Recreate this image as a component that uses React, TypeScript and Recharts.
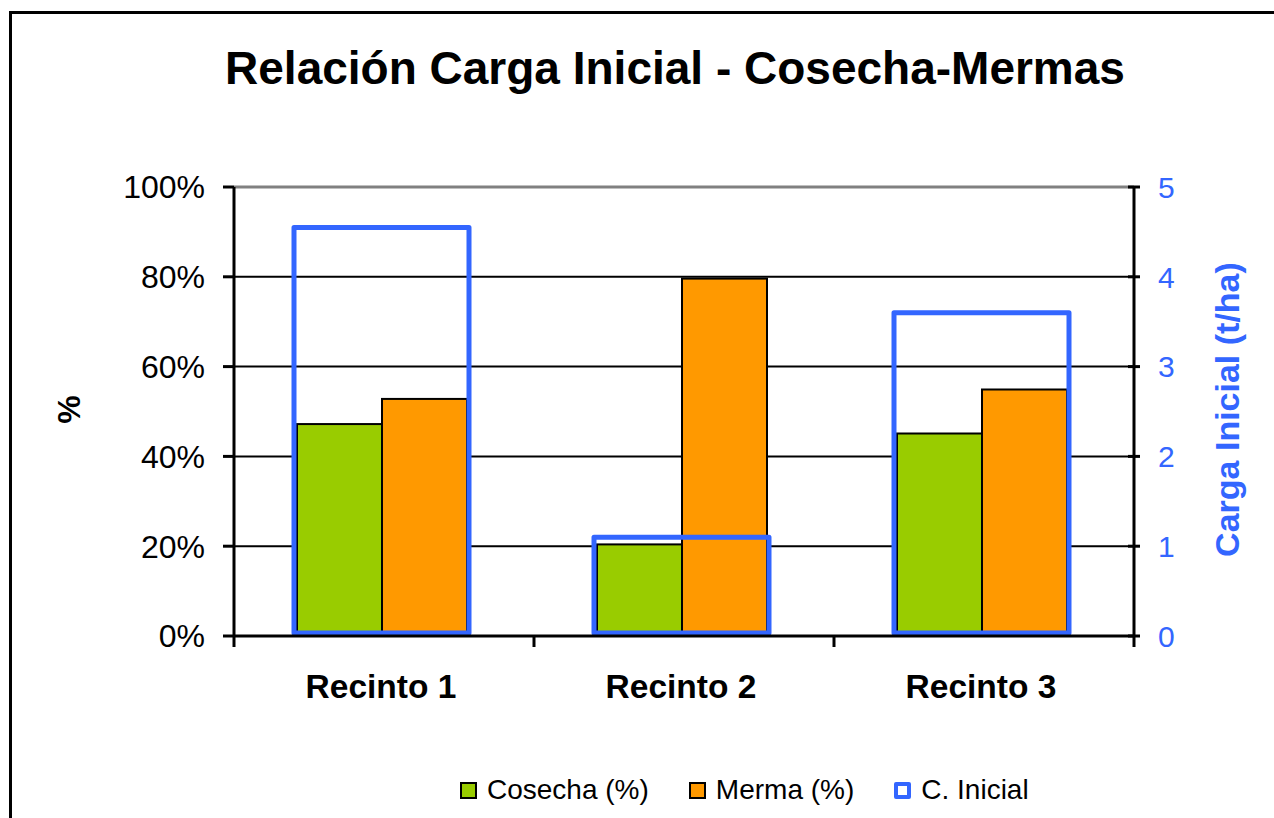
import React from 'react';
import {
  Bar,
  BarChart,
  CartesianGrid,
  Label,
  Legend,
  ReferenceLine,
  XAxis,
  YAxis,
} from 'recharts';

const categories = ['Recinto 1', 'Recinto 2', 'Recinto 3'];
const cosecha = [0.472, 0.204, 0.451];
const merma = [0.528, 0.796, 0.549];
const cargaInicial = [4.55, 1.1, 3.6];

const pctTicks = [0, 0.2, 0.4, 0.6, 0.8, 1];
const cargaTicks = [0, 1, 2, 3, 4, 5];

const seriesNames = ['Cosecha (%)', 'Merma (%)', 'C. Inicial'];

const GREEN = '#99CC00';
const ORANGE = '#FF9900';
const BLUE = '#3366FF';
const FONT = '"Liberation Sans", Arial, sans-serif';

const data = categories.map((name, i) => ({
  name,
  cosecha: cosecha[i],
  merma: merma[i],
  inicial: cargaInicial[i],
}));

const X_TICK = 11;

function CategoryTick(props: any) {
  const {x, y, payload, index} = props;
  const off = payload?.offset ?? 150;
  const axisY = y - X_TICK;
  return (
    <g>
      <line x1={x - off} x2={x - off} y1={axisY} y2={axisY + X_TICK} stroke="#000" strokeWidth={3} />
      {index === categories.length - 1 && (
        <line x1={x + off} x2={x + off} y1={axisY} y2={axisY + X_TICK} stroke="#000" strokeWidth={3} />
      )}
      <text
        x={x - 3}
        y={axisY + 62}
        textAnchor="middle"
        fontFamily={FONT}
        fontWeight="bold"
        fontSize={33.5}
        fill="#000"
      >
        {payload.value}
      </text>
    </g>
  );
}

function CargaTick(props: any) {
  const {x, y, payload} = props;
  return (
    <g>
      <line x1={x - 30} x2={x - 18} y1={y} y2={y} stroke="#000" strokeWidth={3} />
      <text x={x} y={y} dy="0.36em" textAnchor="start" fontFamily={FONT} fontSize={30} fill={BLUE}>
        {payload.value}
      </text>
    </g>
  );
}

function LeftAxisTitle(props: any) {
  const vb = props.viewBox;
  const cx = vb.x + 28;
  const cy = vb.y + vb.height / 2 - 2;
  return (
    <text
      x={cx}
      y={cy}
      transform={`rotate(-90, ${cx}, ${cy})`}
      textAnchor="middle"
      dy="0.36em"
      fontFamily={FONT}
      fontWeight="bold"
      fontSize={32}
      fill="#000"
    >
      %
    </text>
  );
}

function RightAxisTitle(props: any) {
  const vb = props.viewBox;
  const cx = vb.x + 93;
  const cy = vb.y + vb.height / 2 - 2;
  return (
    <text
      x={cx}
      y={cy}
      transform={`rotate(-90, ${cx}, ${cy})`}
      textAnchor="middle"
      dy="0.36em"
      fontFamily={FONT}
      fontWeight="bold"
      fontSize={34}
      fill={BLUE}
    >
      Carga Inicial (t/ha)
    </text>
  );
}

function OutlineBar(props: any) {
  const {x, y, width, height} = props;
  if (height <= 0) return null;
  return (
    <rect
      x={x - 3}
      y={y}
      width={width}
      height={height - 3}
      fill="none"
      stroke={BLUE}
      strokeWidth={5}
      strokeLinejoin="round"
    />
  );
}

function ShiftedBar(props: any) {
  const {x, y, width, height, fill} = props;
  if (height <= 0) return null;
  return <rect x={x - 2} y={y} width={width} height={height} fill={fill} stroke="#000" strokeWidth={2} />;
}

function LegendContent() {
  const swatches = [
    {fill: GREEN, border: '#000', bw: 2},
    {fill: ORANGE, border: '#000', bw: 2},
    {fill: '#fff', border: BLUE, bw: 4},
  ];
  return (
    <div style={{display: 'flex', alignItems: 'center', fontFamily: FONT, fontSize: 28, lineHeight: '30px'}}>
      {seriesNames.map((name, i) => (
        <div key={name} style={{display: 'flex', alignItems: 'center', marginRight: 40}}>
          <span
            style={{
              display: 'inline-block',
              boxSizing: 'border-box',
              width: 17,
              height: 17,
              background: swatches[i].fill,
              border: `${swatches[i].bw}px solid ${swatches[i].border}`,
              borderRadius: i === 2 ? 2 : 0,
              marginRight: 10,
            }}
          />
          <span style={{color: '#000'}}>{name}</span>
        </div>
      ))}
    </div>
  );
}

export default function App() {
  return (
    <div
      style={{
        position: 'absolute',
        left: 0,
        top: 0,
        width: 1274,
        height: 818,
        overflow: 'hidden',
        background: '#fff',
      }}
    >
      <div
        style={{
          position: 'absolute',
          left: 9,
          top: 11,
          width: 1274 - 9,
          height: 818 - 11,
          borderTop: '3px solid #000',
          borderLeft: '3px solid #000',
          boxSizing: 'border-box',
        }}
      />
      <div
        style={{
          position: 'absolute',
          left: 0,
          top: 45,
          width: 1350,
          textAlign: 'center',
          fontFamily: FONT,
          fontWeight: 'bold',
          fontSize: 46,
          lineHeight: '46px',
          color: '#000',
        }}
      >
        Relación Carga Inicial - Cosecha-Mermas
      </div>
      <div style={{position: 'absolute', left: 0, top: 0}}>
        <BarChart
          width={1274}
          height={818}
          data={data}
          margin={{top: 187, right: 10, bottom: 82, left: 40}}
          barGap={0}
          barCategoryGap={0}
        >
          <CartesianGrid vertical={false} stroke="#000" strokeWidth={2} />
          <XAxis
            dataKey="name"
            height={100}
            axisLine={{stroke: '#000', strokeWidth: 3}}
            tickLine={false}
            tickSize={X_TICK}
            tickMargin={0}
            tick={<CategoryTick />}
            interval={0}
          />
          <XAxis xAxisId="ci" dataKey="name" hide />
          <YAxis
            width={194}
            domain={[0, 1]}
            ticks={pctTicks}
            interval={0}
            tickFormatter={(v: number) => `${Math.round(v * 100)}%`}
            axisLine={{stroke: '#000', strokeWidth: 3}}
            tickLine={{stroke: '#000', strokeWidth: 3}}
            tickSize={11}
            tickMargin={18}
            tick={{fill: '#000', fontSize: 32, fontFamily: FONT}}
          >
            <Label content={<LeftAxisTitle />} />
          </YAxis>
          <YAxis
            yAxisId="ci"
            orientation="right"
            width={130}
            domain={[0, 5]}
            ticks={cargaTicks}
            interval={0}
            axisLine={{stroke: '#000', strokeWidth: 3}}
            tickLine={false}
            tickSize={6}
            tickMargin={18}
            tick={<CargaTick />}
          >
            <Label content={<RightAxisTitle />} />
          </YAxis>
          <ReferenceLine y={1} stroke="#808080" strokeWidth={3} />
          <Bar
            dataKey="cosecha"
            name={seriesNames[0]}
            fill={GREEN}
            barSize={85}
            shape={<ShiftedBar />}
            isAnimationActive={false}
          />
          <Bar
            dataKey="merma"
            name={seriesNames[1]}
            fill={ORANGE}
            barSize={85}
            shape={<ShiftedBar />}
            isAnimationActive={false}
          />
          <Bar
            dataKey="inicial"
            name={seriesNames[2]}
            xAxisId="ci"
            yAxisId="ci"
            barSize={175}
            shape={<OutlineBar />}
            isAnimationActive={false}
          />
          <Legend
            layout="horizontal"
            verticalAlign="middle"
            align="center"
            wrapperStyle={{top: 775, left: 460, width: 700}}
            content={<LegendContent />}
          />
        </BarChart>
      </div>
    </div>
  );
}
